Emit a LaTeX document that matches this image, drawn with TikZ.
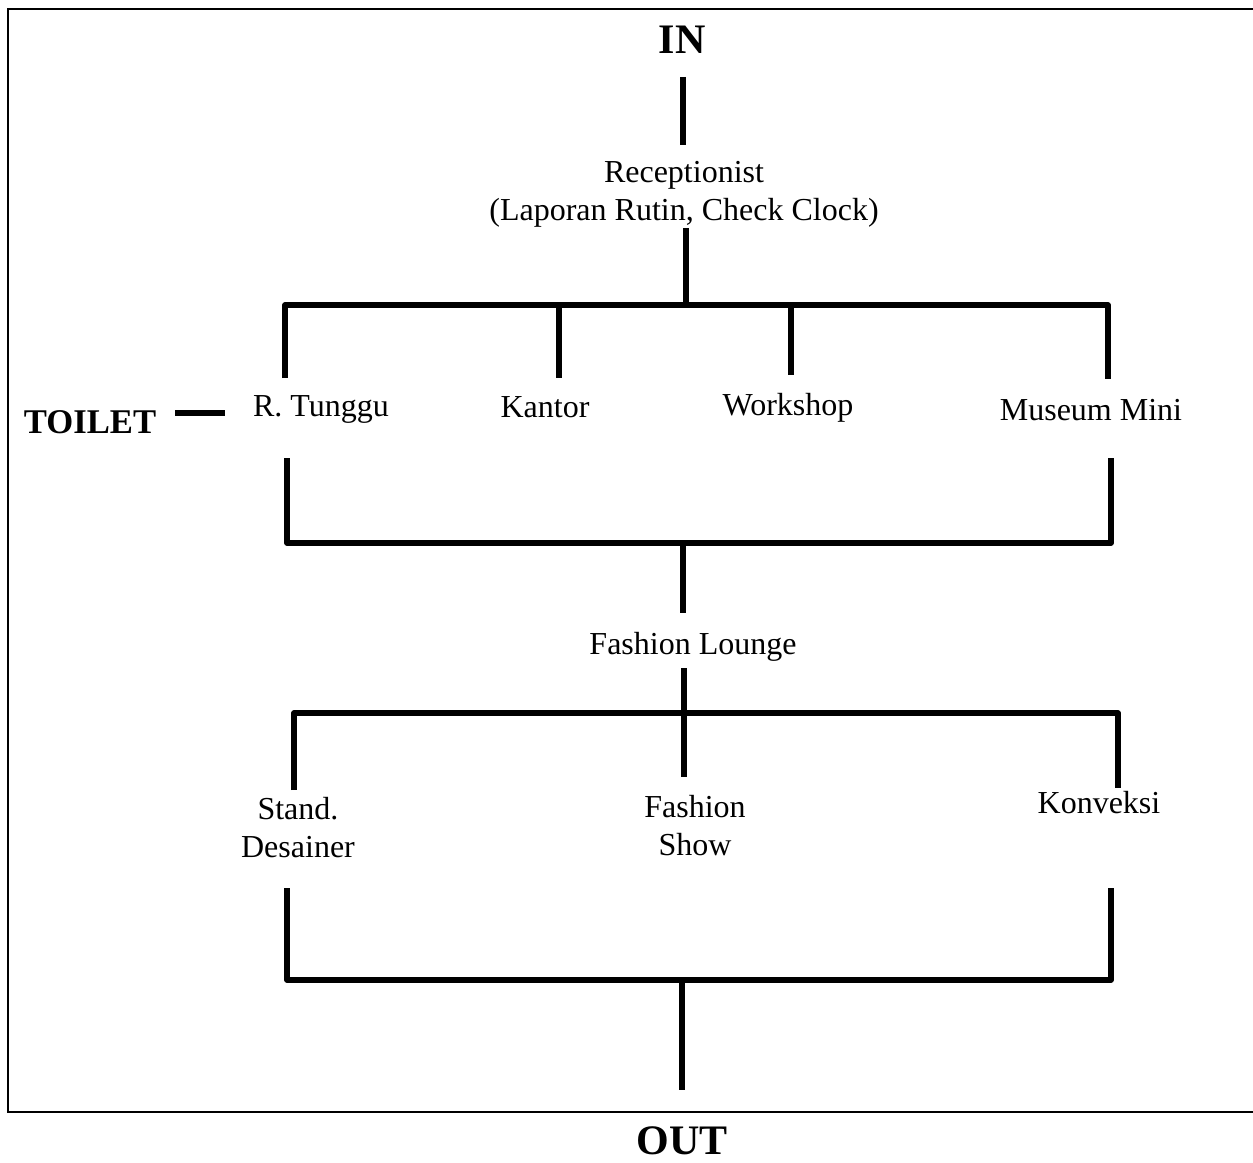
\documentclass[tikz,border=0pt]{standalone}
\usepackage{fontspec}
\setmainfont{Liberation Serif}
\begin{document}
\begin{tikzpicture}[x=0.75pt,y=-0.75pt,
  lbl/.style={inner sep=0pt, anchor=base, align=center, font=\fontsize{24}{28.5}\selectfont},
  big/.style={inner sep=0pt, anchor=base, font=\fontsize{31.5}{36}\selectfont\bfseries},
  mid/.style={inner sep=0pt, anchor=base, font=\fontsize{26}{30}\selectfont\bfseries},
  conn/.style={line width=4pt, line join=round},
  frameline/.style={line width=1.5pt}]
\useasboundingbox (0,0) rectangle (1253,1163);
% frame (right side lies beyond the picture)
\coordinate (fTR) at (1253,9);
\coordinate (fTL) at (8,9);
\coordinate (fBL) at (8,1112);
\coordinate (fBR) at (1253,1112);
\draw[frameline] (fTR) -- (fTL) -- (fBL) -- (fBR);
% texts (multi-line nodes: base = baseline of last line)
\node[big] (in) at (682,54) {IN};
\node[lbl] (rec) at (684,220) {Receptionist\\(Laporan Rutin, Check Clock)};
\node[lbl] (tunggu) at (321,416) {R. Tunggu};
\node[lbl] (kantor) at (545,417) {Kantor};
\node[lbl] (workshop) at (788,415) {Workshop};
\node[lbl] (museum) at (1091,420) {Museum Mini};
\node[mid] (toilet) at (90,433) {TOILET};
\node[lbl] (lounge) at (693,654) {Fashion Lounge};
\node[lbl] (stand) at (298,857) {Stand.\\Desainer};
\node[lbl] (show) at (695,855) {Fashion\\Show};
\node[lbl] (konveksi) at (1099,813) {Konveksi};
\node[big] (out) at (682,1154) {OUT};
% connector end points
\coordinate (inA) at (683,77);   \coordinate (inB) at (683,145);
\coordinate (recA) at (686,228); \coordinate (recB) at (686,305);
\coordinate (b1L) at (285,305);  \coordinate (b1R) at (1108,305);
\coordinate (tunA) at (285,378); \coordinate (musA) at (1108,379);
\coordinate (kanT) at (559,305); \coordinate (kanA) at (559,378);
\coordinate (worT) at (791,305); \coordinate (worA) at (791,375);
\coordinate (toiA) at (175,413); \coordinate (toiB) at (225,413);
\coordinate (tunB) at (287,458); \coordinate (musB) at (1111,458);
\coordinate (b2L) at (287,543);  \coordinate (b2R) at (1111,543);
\coordinate (b2M) at (683,543);  \coordinate (lngA) at (683,613);
\coordinate (lngB) at (684,668); \coordinate (shwA) at (684,777);
\coordinate (b3L) at (294,713);  \coordinate (b3R) at (1118,713);
\coordinate (stdA) at (294,790); \coordinate (konA) at (1118,788);
\coordinate (stdB) at (287,888); \coordinate (konB) at (1111,888);
\coordinate (b4L) at (287,980);  \coordinate (b4R) at (1111,980);
\coordinate (b4M) at (682,980);  \coordinate (outA) at (682,1090);
% connectors
\draw[conn] (inA) -- (inB);
\draw[conn] (recA) -- (recB);
\draw[conn] (tunA) -- (b1L) -- (b1R) -- (musA);
\draw[conn] (kanT) -- (kanA);
\draw[conn] (worT) -- (worA);
\draw[conn] (toiA) -- (toiB);
\draw[conn] (tunB) -- (b2L) -- (b2R) -- (musB);
\draw[conn] (b2M) -- (lngA);
\draw[conn] (lngB) -- (shwA);
\draw[conn] (stdA) -- (b3L) -- (b3R) -- (konA);
\draw[conn] (stdB) -- (b4L) -- (b4R) -- (konB);
\draw[conn] (b4M) -- (outA);
\end{tikzpicture}
\end{document}
